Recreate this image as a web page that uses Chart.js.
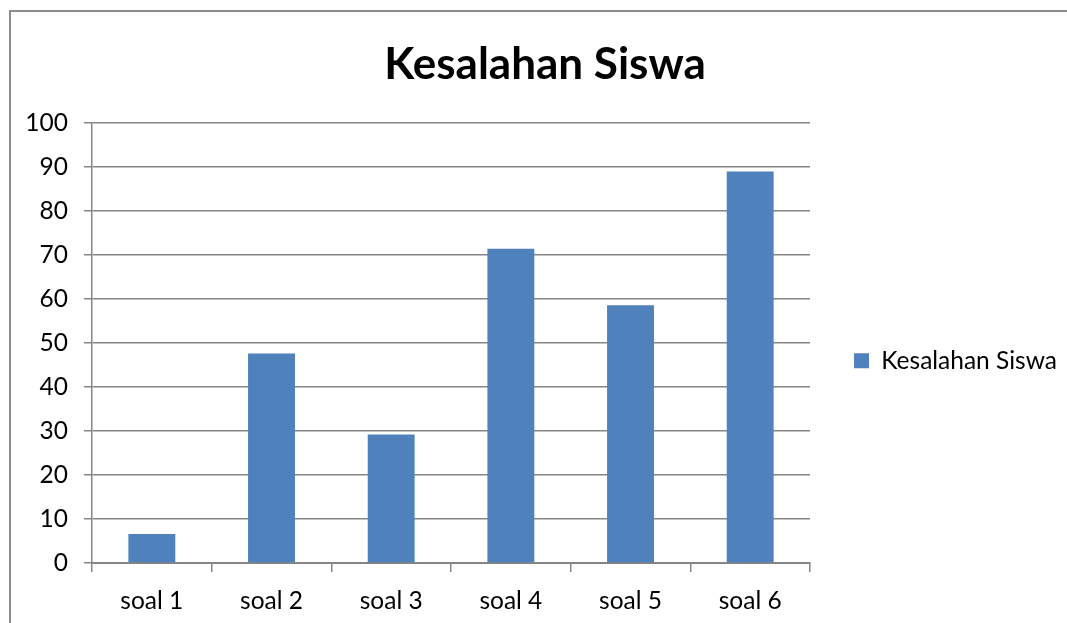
<!DOCTYPE html>
<html>
<head>
<meta charset="utf-8">
<script src="https://cdn.jsdelivr.net/npm/chart.js@4"></script>
<style>
html,body{margin:0;padding:0;background:#fff;}
#wrap{position:absolute;left:0;top:0;width:1067px;height:623px;}
</style>
</head>
<body>
<div id="wrap"><canvas id="c" width="1067" height="623"></canvas></div>
<script>
const categories = ["soal 1", "soal 2", "soal 3", "soal 4", "soal 5", "soal 6"];
const seriesName = "Kesalahan Siswa";
const seriesValues = [6.6, 47.6, 29.2, 71.4, 58.6, 89.0];
const yTicks = [0, 10, 20, 30, 40, 50, 60, 70, 80, 90, 100];
const titleText = "Kesalahan Siswa";

const FONT = "Lato, 'Open Sans', sans-serif";
const GRID = "#858585";

const borderPlugin = {
  id: 'frame',
  beforeDraw(chart) {
    const ctx = chart.ctx;
    ctx.save();
    ctx.fillStyle = '#ffffff';
    ctx.fillRect(0, 0, chart.width, chart.height);
    ctx.strokeStyle = '#8c8c8c';
    ctx.lineWidth = 2;
    ctx.beginPath();
    ctx.moveTo(10, chart.height);
    ctx.lineTo(10, 11);
    ctx.lineTo(chart.width, 11);
    ctx.stroke();
    ctx.restore();
  }
};

new Chart(document.getElementById('c'), {
  type: 'bar',
  data: {
    labels: categories,
    datasets: [{
      label: seriesName,
      data: seriesValues,
      backgroundColor: '#4F81BD',
      borderWidth: 0,
      barPercentage: 0.8,
      categoryPercentage: 0.49
    }]
  },
  options: {
    responsive: false,
    animation: false,
    devicePixelRatio: 1,
    layout: { padding: { left: 23, top: 38.6, right: 0, bottom: 0 } },
    plugins: {
      title: {
        display: true,
        text: titleText,
        color: '#000',
        font: { family: FONT, size: 44, weight: 'bold' },
        padding: { top: 0, bottom: 31.6 }
      },
      legend: {
        position: 'right',
        align: 'center',
        maxWidth: 300,
        title: { display: true, text: ' ', font: { size: 10 }, padding: 24 },
        labels: {
          boxWidth: 15,
          boxHeight: 15,
          padding: 10,
          color: '#000',
          font: { family: FONT, size: 24.5 }
        }
      },
      tooltip: { enabled: false }
    },
    scales: {
      x: {
        offset: true,
        grid: {
          display: true,
          offset: true,
          drawOnChartArea: false,
          drawTicks: true,
          tickLength: 9,
          color: GRID,
          lineWidth: 1.5
        },
        border: { display: true, color: GRID, width: 2 },
        ticks: {
          color: '#000',
          padding: 14,
          font: { family: FONT, size: 24.5 }
        },
        afterFit(scale) { scale.height = 60; }
      },
      y: {
        min: 0,
        max: 100,
        afterBuildTicks(scale) { scale.ticks = yTicks.map(v => ({ value: v })); },
        grid: {
          color: GRID,
          lineWidth: 1.5,
          drawTicks: true,
          tickLength: 8
        },
        border: { display: true, color: GRID, width: 1.5 },
        ticks: {
          color: '#000',
          padding: 16,
          font: { family: FONT, size: 24.5 }
        },
        afterFit(scale) { scale.width = 69; }
      },
      ySpacer: {
        position: 'right',
        min: 0,
        max: 100,
        display: true,
        grid: { display: false, drawOnChartArea: false, drawTicks: false },
        border: { display: false },
        ticks: { display: false },
        afterFit(scale) { scale.width = 34; }
      }
    }
  },
  plugins: [borderPlugin]
});
</script>
</body>
</html>
